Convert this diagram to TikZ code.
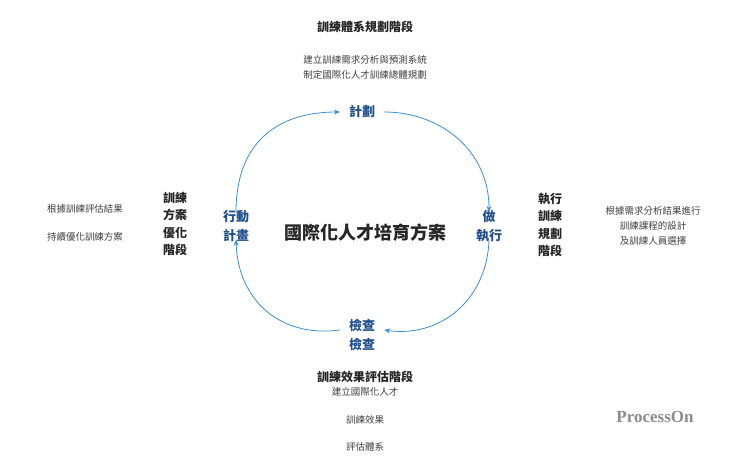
\documentclass[tikz,border=0pt]{standalone}
\usepackage{fontspec}
\setmainfont{Noto Sans CJK TC}
\newfontfamily\pofont{Liberation Serif}
\usetikzlibrary{arrows.meta}
\definecolor{arc}{HTML}{3D8FCF}
\definecolor{lab}{HTML}{1F4E8C}
\tikzset{
 blab/.style={font=\bfseries\fontsize{13}{19}\selectfont, text=lab, align=center, inner sep=1pt},
 head/.style={font=\bfseries\fontsize{12}{17.5}\selectfont, text=black!85, align=center, inner sep=1pt},
 note/.style={font=\fontsize{9.5}{15}\selectfont, text=black!75, align=center, inner sep=1pt},
 cyc/.style={draw=arc, line width=0.8pt, -{Stealth[length=6pt,width=5pt]}}
}
\begin{document}
\begin{tikzpicture}[x=1pt,y=-1pt]
\useasboundingbox[fill=white] (0,0) rectangle (740,461);
\node[head] (t) at (365,27) {訓練體系規劃階段};
\node[note] (tn) at (365,67) {建立訓練需求分析與預測系統\\制定國際化人才訓練總體規劃};
\node[blab] (p) at (362,112) {計劃};
\node[blab] (d) at (489,226) {做\\執行};
\node[blab] (c) at (362,335) {檢查\\檢查};
\node[blab] (a) at (236,226) {行動\\計畫};
\node[font=\bfseries\fontsize{18}{20}\selectfont, text=black!85] (m) at (365,233) {國際化人才培育方案};
\node[head] (l) at (175,224) {訓練\\方案\\優化\\階段};
\node[note] (ln) at (85,223) {根據訓練評估結果\\[13pt]持續優化訓練方案};
\node[head] (r) at (550,225) {執行\\訓練\\規劃\\階段};
\node[note] (rn) at (653,226) {根據需求分析結果進行\\訓練課程的設計\\及訓練人員選擇};
\node[head] (b) at (365,377) {訓練效果評估階段};
\node[note] (b1) at (365,392) {建立國際化人才};
\node[note] (b2) at (365,420) {訓練效果};
\node[note] (b3) at (365,447) {評估體系};
\node[font=\pofont\bfseries\fontsize{17}{18}\selectfont, text=black!45] (po) at (655,417) {ProcessOn};
\draw[cyc] ([yshift=-3pt]a.north) .. controls (236,140) and (280,112) .. ([xshift=-8pt]p.west);
\draw[cyc] ([xshift=8pt]p.east) .. controls (440,112) and (489,150) .. ([yshift=-3pt]d.north);
\draw[cyc] ([yshift=3pt]d.south) .. controls (487,300) and (440,338) .. ([xshift=8pt,yshift=5pt]c.east);
\draw[cyc] ([xshift=-8pt,yshift=5pt]c.west) .. controls (280,338) and (238,300) .. ([yshift=3pt]a.south);
\end{tikzpicture}
\end{document}
